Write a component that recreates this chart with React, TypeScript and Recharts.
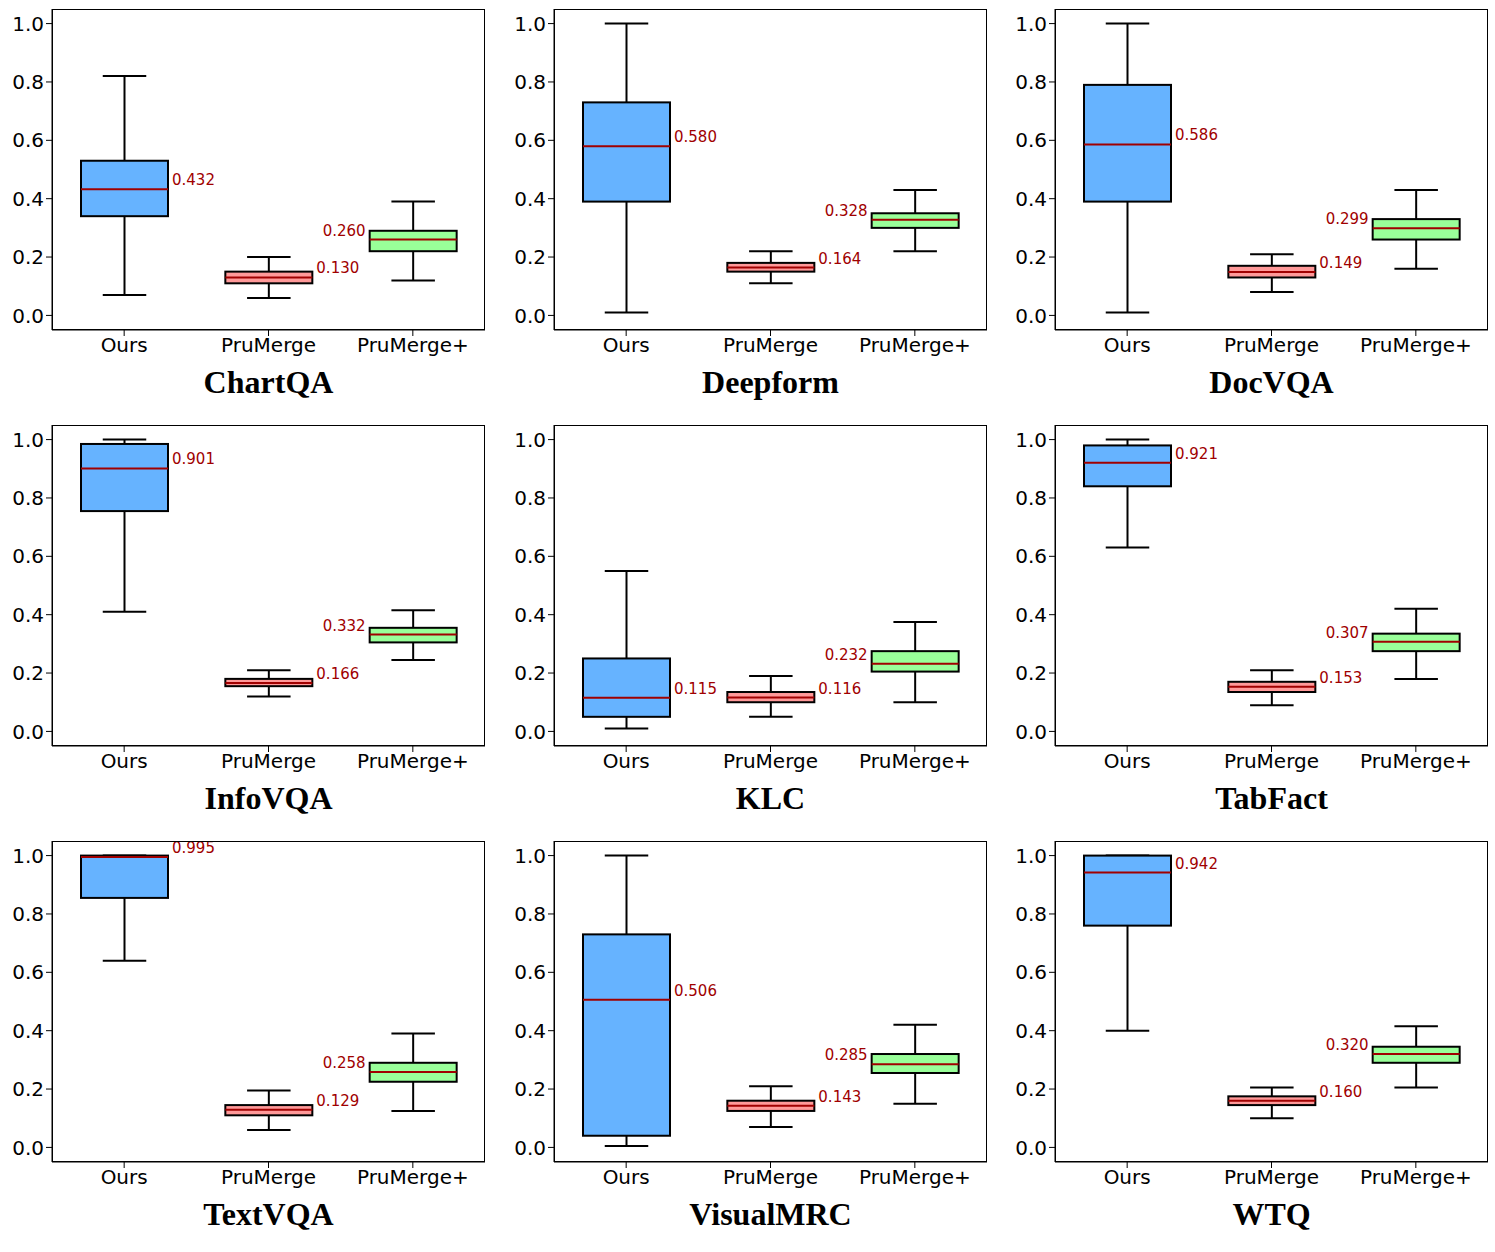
import React from "react";
import { ComposedChart, Bar, XAxis, YAxis } from "recharts";

const methods = ["Ours", "PruMerge", "PruMerge+"];
const fills = ["#66b3ff", "#ff9999", "#99ff99"];
const titles = ["ChartQA", "Deepform", "DocVQA", "InfoVQA", "KLC", "TabFact", "TextVQA", "VisualMRC", "WTQ"];
const yTicks = [0, 0.2, 0.4, 0.6, 0.8, 1.0];

// [min, q1, median, q3, max] for Ours, PruMerge, PruMerge+
const stats: number[][][] = [
  [[0.07, 0.34, 0.432, 0.53, 0.82], [0.06, 0.11, 0.13, 0.15, 0.2], [0.12, 0.22, 0.26, 0.29, 0.39]],
  [[0.01, 0.39, 0.58, 0.73, 1.0], [0.11, 0.15, 0.164, 0.18, 0.22], [0.22, 0.3, 0.328, 0.35, 0.43]],
  [[0.01, 0.39, 0.586, 0.79, 1.0], [0.08, 0.13, 0.149, 0.17, 0.21], [0.16, 0.26, 0.299, 0.33, 0.43]],
  [[0.41, 0.755, 0.901, 0.985, 1.0], [0.12, 0.155, 0.166, 0.18, 0.21], [0.245, 0.305, 0.332, 0.355, 0.415]],
  [[0.01, 0.05, 0.115, 0.25, 0.55], [0.05, 0.1, 0.116, 0.135, 0.19], [0.1, 0.205, 0.232, 0.275, 0.375]],
  [[0.63, 0.84, 0.921, 0.98, 1.0], [0.09, 0.135, 0.153, 0.17, 0.21], [0.18, 0.275, 0.307, 0.335, 0.42]],
  [[0.64, 0.855, 0.995, 1.0, 1.0], [0.06, 0.11, 0.129, 0.145, 0.195], [0.125, 0.225, 0.258, 0.29, 0.39]],
  [[0.005, 0.04, 0.506, 0.73, 1.0], [0.07, 0.125, 0.143, 0.16, 0.21], [0.15, 0.255, 0.285, 0.32, 0.42]],
  [[0.4, 0.76, 0.942, 1.0, 1.0], [0.1, 0.145, 0.16, 0.175, 0.205], [0.205, 0.29, 0.32, 0.345, 0.415]],
];

const W = 490;
const H = 370;
const colLefts = [0, 502, 1003];
const rowTops = [0, 416, 832];

function BoxShape(props: any) {
  const { x, y, width, height, payload, index } = props;
  const [mn, q1, med, q3, mx] = payload.s;
  const span = mx - mn || 1;
  const py = (v: number) => y + ((mx - v) / span) * height;
  const cx = x + width / 2;
  const cap = width / 4;
  const labelLeft = index === 2;
  return (
    <g>
      <line x1={cx} x2={cx} y1={py(mx)} y2={py(q3)} stroke="#000" strokeWidth={2} />
      <line x1={cx} x2={cx} y1={py(q1)} y2={py(mn)} stroke="#000" strokeWidth={2} />
      <line x1={cx - cap} x2={cx + cap} y1={py(mx)} y2={py(mx)} stroke="#000" strokeWidth={2} />
      <line x1={cx - cap} x2={cx + cap} y1={py(mn)} y2={py(mn)} stroke="#000" strokeWidth={2} />
      <rect x={x} y={py(q3)} width={width} height={py(q1) - py(q3)} fill={payload.fill} stroke="#000" strokeWidth={2} />
      <line x1={x} x2={x + width} y1={py(med)} y2={py(med)} stroke="#a00000" strokeWidth={2} />
      <text
        x={labelLeft ? x - 4 : x + width + 4}
        y={py(med) - 4}
        textAnchor={labelLeft ? "end" : "start"}
        fill="#a00000"
        fontSize={15}
        fontFamily="DejaVu Sans"
      >
        {med.toFixed(3)}
      </text>
    </g>
  );
}

function Panel({ idx }: { idx: number }) {
  const data = methods.map((m, i) => ({
    name: m,
    range: [stats[idx][i][0], stats[idx][i][4]],
    s: stats[idx][i],
    fill: fills[i],
  }));
  const left = colLefts[idx % 3];
  const top = rowTops[Math.floor(idx / 3)];
  const tickStyle = { fill: "#000", fontSize: 20, fontFamily: "DejaVu Sans" };
  return (
    <div style={{ position: "absolute", left, top, width: W, height: H + 50 }}>
      <ComposedChart width={W} height={H} data={data} margin={{ top: 9, right: 5, left: 0, bottom: 0 }}>
        <XAxis dataKey="name" height={40} tick={tickStyle} stroke="#000" tickLine={{ stroke: "#000" }} tickSize={6} />
        <YAxis
          domain={[-0.05, 1.05]}
          ticks={yTicks}
          width={52}
          tick={tickStyle}
          tickFormatter={(v: number) => v.toFixed(1)}
          stroke="#000"
          tickSize={6}
          allowDataOverflow
        />
        <Bar dataKey="range" barSize={87} shape={BoxShape} isAnimationActive={false} />
      </ComposedChart>
      <div
        style={{
          position: "absolute",
          left: 52,
          top: 9,
          width: 433,
          height: 321,
          border: "1px solid #000",
          boxSizing: "border-box",
          pointerEvents: "none",
        }}
      />
      <div
        style={{
          position: "absolute",
          left: 52,
          width: 433,
          top: 364,
          textAlign: "center",
          fontFamily: "Liberation Serif",
          fontWeight: "bold",
          fontSize: 32,
        }}
      >
        {titles[idx]}
      </div>
    </div>
  );
}

export default function App() {
  return (
    <div style={{ position: "absolute", left: 0, top: 0, width: 1495, height: 1252, background: "#fff" }}>
      {titles.map((_, i) => (
        <Panel key={i} idx={i} />
      ))}
    </div>
  );
}
